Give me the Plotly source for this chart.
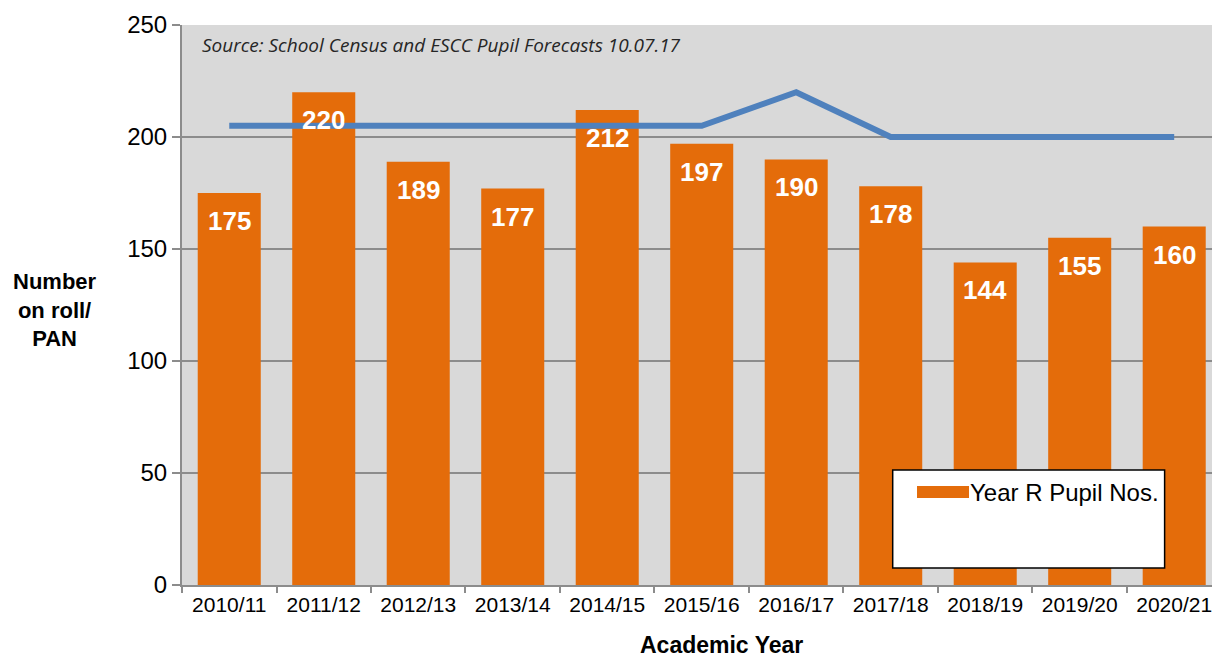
import plotly.graph_objects as go

years = ["2010/11", "2011/12", "2012/13", "2013/14", "2014/15", "2015/16",
         "2016/17", "2017/18", "2018/19", "2019/20", "2020/21"]
pupils = [175, 220, 189, 177, 212, 197, 190, 178, 144, 155, 160]
pan = [205, 205, 205, 205, 205, 205, 220, 200, 200, 200, 200]

BAR = "#e46c0a"
LINE = "#4f81bd"
GRID = "#8c8c8c"

fig = go.Figure()
fig.add_trace(go.Bar(x=years, y=pupils, name="Year R Pupil Nos.",
                     marker=dict(color=BAR, line=dict(width=0)),
                     showlegend=False))
fig.add_trace(go.Scatter(x=years, y=pan, mode="lines", name="PAN",
                         line=dict(color=LINE, width=6), showlegend=False))

annotations = []
for yr, v in zip(years, pupils):
    annotations.append(dict(x=yr, y=v, xref="x", yref="y", text=str(v),
                            showarrow=False, yshift=-28,
                            font=dict(family="Arial", size=26, color="white",
                                      weight="bold")))

annotations += [
    dict(text="Source: School Census and ESCC Pupil Forecasts 10.07.17",
         xref="paper", yref="paper", x=0.0175, y=0.964, xanchor="left",
         yanchor="middle", showarrow=False,
         font=dict(family="Open Sans", size=19, color="#262626", style="italic")),
    dict(text="<b>Number<br>on roll/<br>PAN</b>", xref="paper", yref="paper",
         x=-0.1233, y=0.491, xanchor="center", yanchor="middle", showarrow=False,
         font=dict(family="Arial", size=22, color="black")),
    dict(text="<b>Academic Year</b>", xref="paper", yref="paper",
         x=0.524, y=-0.107, xanchor="center", yanchor="middle", showarrow=False,
         font=dict(family="Arial", size=23, color="black")),
    dict(text="Year R Pupil Nos.", xref="paper", yref="paper",
         x=0.7631, y=0.166, xanchor="left", yanchor="middle", showarrow=False,
         font=dict(family="Arial", size=24, color="black")),
]

shapes = [
    dict(type="rect", xref="paper", yref="paper", x0=0.690, x1=0.954,
         y0=0.0304, y1=0.2054, fillcolor="white",
         line=dict(color="black", width=1.5)),
    dict(type="rect", xref="paper", yref="paper", x0=0.7136, x1=0.7641,
         y0=0.1554, y1=0.1768, fillcolor=BAR, line=dict(width=0)),
]

fig.update_layout(
    width=1212, height=657,
    margin=dict(l=182, r=0, t=25, b=72),
    paper_bgcolor="white", plot_bgcolor="#d9d9d9",
    bargap=0.333,
    font=dict(family="Arial", color="black"),
    annotations=annotations, shapes=shapes,
    xaxis=dict(type="category", range=[-0.5, 10.4], tickson="boundaries",
               ticks="outside", ticklen=6, tickcolor=GRID, tickwidth=2,
               showline=True, linecolor=GRID, linewidth=2, showgrid=False,
               tickfont=dict(size=21, color="black")),
    yaxis=dict(range=[0, 250], dtick=50, ticks="outside", ticklen=8,
               tickcolor=GRID, tickwidth=2, showline=True, linecolor=GRID,
               linewidth=2, gridcolor=GRID, gridwidth=2, zeroline=False,
               tickfont=dict(size=24, color="black")),
)

fig.write_html("out.html", config={"displayModeBar": False},
               post_script="document.body.style.margin='0';document.body.style.overflow='hidden';")
